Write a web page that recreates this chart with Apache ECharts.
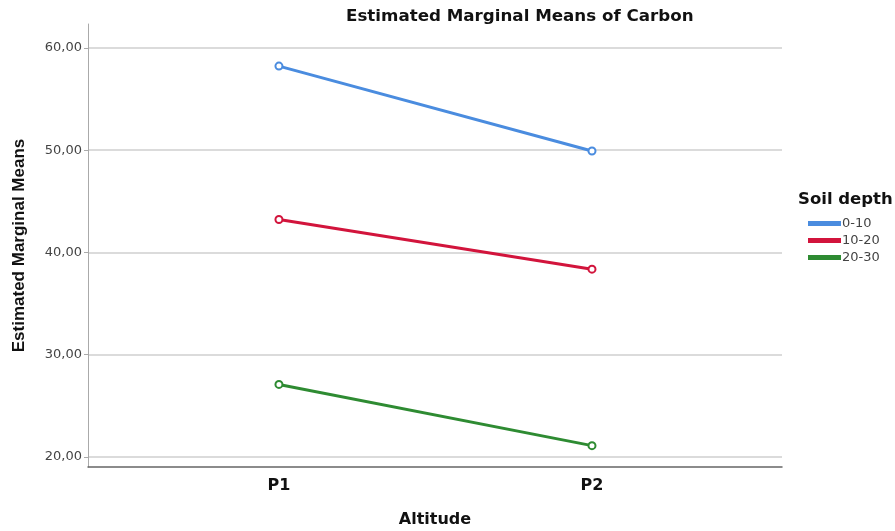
<!DOCTYPE html>
<html>
<head>
<meta charset="utf-8">
<script src="https://cdn.jsdelivr.net/npm/echarts@6/dist/echarts.min.js"></script>
<style>html,body{margin:0;padding:0;background:#fff}#c{width:895px;height:531px}</style>
</head>
<body>
<div id="c"></div>
<script>
const categories = ['P1', 'P2'];
const seriesNames = ['0-10', '10-20', '20-30'];
const depth0_10 = [58.23, 49.92];
const depth10_20 = [43.22, 38.36];
const depth20_30 = [27.08, 21.09];
const yTicks = [20, 30, 40, 50, 60];

const colors = ['#4A8CDF', '#D2143C', '#2E8B32'];
const values = [depth0_10, depth10_20, depth20_30];
const font = '"Liberation Sans", Arial, sans-serif';
const wide = '"DejaVu Sans", sans-serif';

const chart = echarts.init(document.getElementById('c'));
chart.setOption({
  animation: false,
  backgroundColor: '#fff',
  title: [
    { text: 'Estimated Marginal Means of Carbon', left: 341, top: 3,
      textStyle: { fontFamily: wide, fontSize: 16.7, fontWeight: 'bold', color: '#111' } },
    { text: 'Soil depth', left: 793, top: 186,
      textStyle: { fontFamily: wide, fontSize: 16.5, fontWeight: 'bold', color: '#111' } }
  ],
  legend: {
    orient: 'vertical', left: 803, top: 212,
    itemWidth: 31, itemHeight: 3, itemGap: 4,
    icon: 'rect',
    textStyle: { fontFamily: wide, fontSize: 13, color: '#444', padding: [0, 0, 0, -3] },
    data: seriesNames.map((n, i) => ({ name: n, icon: 'rect', itemStyle: { color: colors[i] } }))
  },
  grid: { left: 88, right: 113, top: 24, bottom: 64, containLabel: false, outerBoundsMode: 'none' },
  xAxis: {
    type: 'value', min: 0.39, max: 2.607,
    name: 'Altitude', nameLocation: 'middle', nameGap: 45,
    nameTextStyle: { fontFamily: wide, fontSize: 16, fontWeight: 'bold', color: '#111' },
    axisLine: { show: true, lineStyle: { color: '#666', width: 1.5 } },
    axisTick: { show: false },
    splitLine: { show: false },
    axisLabel: {
      customValues: [1, 2], margin: 11,
      fontFamily: wide, fontSize: 16, fontWeight: 'bold', color: '#111',
      formatter: v => categories[Math.round(v) - 1] || ''
    }
  },
  yAxis: {
    type: 'value', min: 19, max: 62.35,
    name: 'Estimated Marginal Means', nameLocation: 'middle', nameGap: 60,
    nameTextStyle: { fontFamily: font, fontSize: 17, fontWeight: 'bold', color: '#111' },
    axisLine: { show: true, lineStyle: { color: '#aaa', width: 1 } },
    axisTick: { show: true, customValues: yTicks, length: 4, lineStyle: { color: '#aaa' } },
    splitLine: { show: true, lineStyle: { color: '#cfcfcf', width: 1.5 } },
    axisLabel: {
      customValues: yTicks, margin: 6,
      fontFamily: wide, fontSize: 13, color: '#444',
      formatter: v => v.toFixed(2).replace('.', ',')
    }
  },
  series: seriesNames.map((n, i) => ({
    name: n, type: 'line',
    data: values[i].map((v, j) => [j + 1, v]),
    symbol: 'emptyCircle', symbolSize: 7,
    lineStyle: { color: colors[i], width: 3 },
    itemStyle: { color: colors[i], borderColor: colors[i], borderWidth: 1 }
  }))
});
</script>
</body>
</html>
